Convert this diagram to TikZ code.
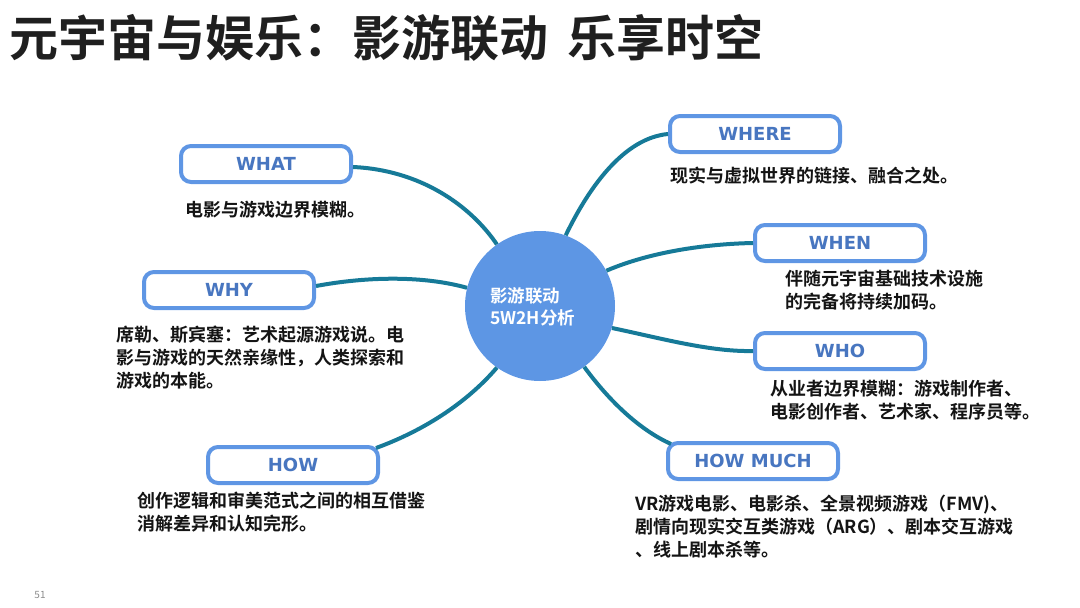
\documentclass[tikz,border=0pt]{standalone}
\usepackage{fontspec}
\setmainfont{Noto Sans CJK SC}[BoldFont={Noto Sans CJK SC Bold}]
\newfontfamily\labfont{DejaVu Sans}[BoldFont={DejaVu Sans Bold}]
\usetikzlibrary{calc}
\definecolor{hubblue}{RGB}{93,150,228}
\definecolor{boxblue}{RGB}{95,150,228}
\definecolor{labblue}{RGB}{72,118,192}
\definecolor{teal}{RGB}{22,122,152}
\definecolor{txt}{RGB}{20,20,20}
\tikzset{
  keybox/.style={draw=boxblue, line width=4pt, fill=white, rounded corners=10pt,
    minimum width=170pt, minimum height=36pt, inner sep=0pt,
    text=labblue, font=\labfont\fontsize{18}{20}\selectfont\bfseries},
  desc/.style={anchor=north west, inner sep=0pt, align=left, text=txt,
    font=\fontsize{18}{23}\selectfont\bfseries},
  conn/.style={draw=teal, line width=4pt},
  hub/.style={circle, fill=hubblue, minimum size=150pt, inner sep=0pt}
}
\begin{document}
\begin{tikzpicture}[x=1pt,y=-1pt]
\useasboundingbox (0,0) rectangle (1080,608);
% title
\node[anchor=west, inner sep=0pt, text=black!88, font=\fontsize{49}{52}\selectfont\bfseries] (title) at (9,38) {元宇宙与娱乐：影游联动\hspace{0.4em}乐享时空};
% hub
\node[hub] (c) at (540,306) {};
\node[anchor=north west, inner sep=0pt, align=left, text=white, font=\fontsize{17.5}{22}\selectfont\bfseries] (ctext) at (490,287) {影游联动\\5W2H分析};
% boxes
\node[keybox] (what) at (266,164) {WHAT};
\node[keybox] (why) at (229,290) {WHY};
\node[keybox] (how) at (293,465) {HOW};
\node[keybox] (where) at (755,134) {WHERE};
\node[keybox] (when) at (840,243) {WHEN};
\node[keybox] (who) at (840,351) {WHO};
\node[keybox] (howmuch) at (753,461) {HOW MUCH};
% connectors
\draw[conn] ($(what.east)+(0,3)$) .. controls (420,170) and (470,205) .. (c.125);
\draw[conn] ($(why.east)+(0,-4)$) .. controls (370,276) and (425,276) .. (c.166);
\draw[conn] ($(how.north east)+(-4,3)$) .. controls (420,432) and (465,405) .. (c.235);
\draw[conn] (c.70) .. controls (590,185) and (625,138) .. (where.west);
\draw[conn] (c.28) .. controls (650,252) and (705,244) .. (when.west);
\draw[conn] (c.-17) .. controls (660,338) and (710,352) .. (who.west);
\draw[conn] (c.-54) .. controls (610,402) and (640,430) .. ($(howmuch.north west)+(5,3)$);
% descriptions
\node[desc] (dwhat) at (185,201) {电影与游戏边界模糊。};
\node[desc] (dwhy) at (116,326) {席勒、斯宾塞：艺术起源游戏说。电\\影与游戏的天然亲缘性，人类探索和\\游戏的本能。};
\node[desc] (dhow) at (137,492) {创作逻辑和审美范式之间的相互借鉴\\消解差异和认知完形。};
\node[desc] (dwhere) at (670,167) {现实与虚拟世界的链接、融合之处。};
\node[desc] (dwhen) at (785,270) {伴随元宇宙基础技术设施\\的完备将持续加码。};
\node[desc] (dwho) at (770,380) {从业者边界模糊：游戏制作者、\\电影创作者、艺术家、程序员等。};
\node[desc] (dhowmuch) at (635,495) {VR游戏电影、电影杀、全景视频游戏（FMV)、\\剧情向现实交互类游戏（ARG）、剧本交互游戏\\、线上剧本杀等。};
% page number
\node[anchor=center, inner sep=0pt, text=black!45, font=\fontsize{10}{12}\selectfont] (pg) at (40,595) {51};
\end{tikzpicture}
\end{document}
